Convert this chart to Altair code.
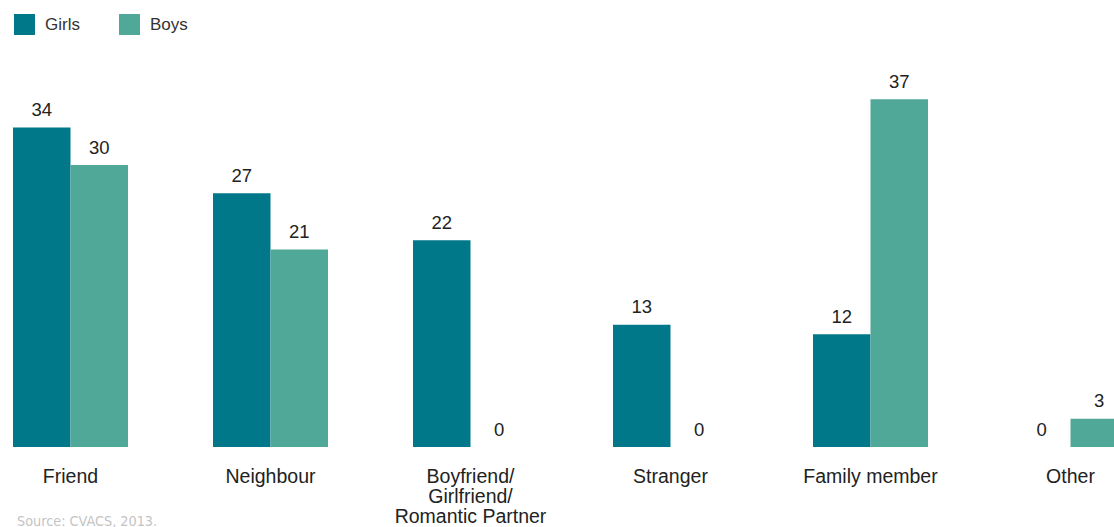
import altair as alt
import pandas as pd

categories = ["Friend", "Neighbour", "Boyfriend/|Girlfriend/|Romantic Partner", "Stranger", "Family member", "Other"]
girls = [34, 27, 22, 13, 12, 0]
boys = [30, 21, 0, 0, 37, 3]
series = ["Girls", "Boys"]
colors = ["#00788A", "#50A898"]

rows = []
for c, g, b in zip(categories, girls, boys):
    rows.append({"category": c, "sex": "Girls", "value": g})
    rows.append({"category": c, "sex": "Boys", "value": b})
df = pd.DataFrame(rows)

FONT = "Liberation Sans"

x = alt.X("category:N", sort=categories, title=None,
          scale=alt.Scale(range=[0, 1115], paddingInner=0.425, paddingOuter=0),
          axis=alt.Axis(domain=False, ticks=False, labelAngle=0, labelFont=FONT,
                        labelFontSize=19.5, labelColor="#222222", labelPadding=29,
                        labelLineHeight=20, labelBaseline="middle",
                        labelExpr="split(datum.label, '|')"))
xo = alt.XOffset("sex:N", sort=series, scale=alt.Scale(paddingInner=0, paddingOuter=0))
y = alt.Y("value:Q", title=None, scale=alt.Scale(domain=[0, 40]), axis=None)

bars = alt.Chart(df).mark_bar(clip=True).encode(
    x=x, xOffset=xo, y=y,
    color=alt.Color("sex:N", sort=series, scale=alt.Scale(domain=series, range=colors),
                    legend=alt.Legend(title=None, orient="none", legendX=1, legendY=-57,
                                      direction="horizontal", symbolType="square",
                                      symbolSize=441, symbolStrokeWidth=0, symbolOpacity=1,
                                      labelFont=FONT, labelFontSize=17, labelColor="#333333",
                                      labelOffset=10, columnPadding=39)),
)

labels = alt.Chart(df).mark_text(font=FONT, fontSize=18.5, color="#222222",
                                 baseline="middle", dy=-17.5, clip=True).encode(
    x=x, xOffset=xo, y=y, text=alt.Text("value:Q"),
)

source = alt.Chart(pd.DataFrame({"t": ["Source: CVACS, 2013."]})).mark_text(
    font="DejaVu Sans Condensed", fontSize=14.3, color="#c4c4c4", align="left", baseline="middle"
).encode(x=alt.value(4), y=alt.value(451), text="t:N")

chart = alt.layer(bars, labels, source).properties(
    width=1101, height=376,
    background="white",
    autosize=alt.AutoSizeParams(type="none"),
    padding={"left": 13, "top": 71, "right": 0, "bottom": 80},
).configure_view(strokeWidth=0, stroke="transparent")

chart.save("out.html", embed_options={"renderer": "svg", "actions": False})
